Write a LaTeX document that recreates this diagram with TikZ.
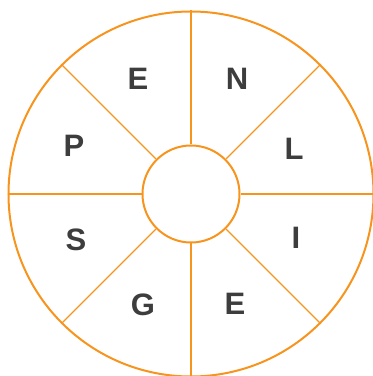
\documentclass[tikz,border=0pt]{standalone}
\usepackage{fontspec}
\setmainfont{Liberation Sans}
\definecolor{ring}{HTML}{F7941D}
\definecolor{ink}{HTML}{3D3D3D}
\begin{document}
\begin{tikzpicture}[x=1pt,y=1pt,
  rimc/.style={circle,draw=ring,line width=2pt,minimum size=365pt,inner sep=0pt},
  hubc/.style={circle,draw=ring,line width=2pt,minimum size=97pt,inner sep=0pt},
  spoke/.style={draw=ring,line width=1.3pt},
  letter/.style={text=ink,font=\fontsize{31}{31}\selectfont\bfseries,inner sep=0pt}]
\useasboundingbox (0,0) rectangle (373,376);
\coordinate (c) at (191,182);
\node[rimc] (rim) at (c) {};
\node[hubc] (hub) at (c) {};
\foreach \a in {0,45,...,315}{
  \draw[spoke] (hub.\a) -- (rim.\a);
}
\node[letter] (l1) at (138,297) {E};
\node[letter] (l2) at (237,297) {N};
\node[letter] (l3) at (74,230) {P};
\node[letter] (l4) at (294,227) {L};
\node[letter] (l5) at (76,136) {S};
\node[letter] (l6) at (296,138) {I};
\node[letter] (l7) at (143,71) {G};
\node[letter] (l8) at (235,72) {E};
\end{tikzpicture}
\end{document}
